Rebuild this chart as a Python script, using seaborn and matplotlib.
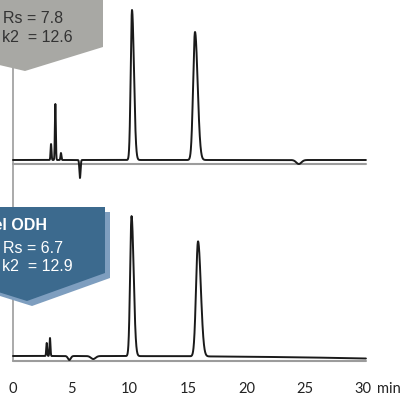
import numpy as np
import pandas as pd
import seaborn as sns
import matplotlib.pyplot as plt
from matplotlib.patches import Polygon

# peak tables
# retention time (min), height (signal units), sigma left (min), tailing factor
top_rt = [3.26, 3.63, 4.11, 5.74, 10.2, 15.6, 24.5]
top_h = [16, 56, 7, -18, 150, 128, -4]
top_w = [0.04, 0.04, 0.04, 0.05, 0.11, 0.16, 0.22]
top_tail = [1.0, 1.0, 1.0, 1.0, 1.5, 1.4, 1.0]

bot_rt = [2.89, 3.17, 4.83, 6.88, 10.16, 15.86]
bot_h = [13, 18, -4, -3, 140, 115]
bot_w = [0.04, 0.04, 0.12, 0.2, 0.12, 0.17]
bot_tail = [1.0, 1.0, 1.0, 1.0, 1.5, 1.4]

top_offset = 215
bot_offset = 19
bot_drift = -2.5      # baseline drift over the run, bottom trace
run_end = 30.25

xticks = [0, 5, 10, 15, 20, 25, 30]

top_labels = ['Rs = 7.8', 'k2  = 12.6']
bot_title = 'Chiralcel ODH'
bot_labels = ['Rs = 6.7', 'k2  = 12.9']


def trace(t, rt, h, w, tail):
    y = np.zeros_like(t)
    for r, hh, s, k in zip(rt, h, w, tail):
        sig = np.where(t < r, s, s * k)
        y += hh * np.exp(-0.5 * ((t - r) / sig) ** 2)
    return y


t = np.linspace(0, run_end, 6000)
df = pd.concat([
    pd.DataFrame({'time': t, 'signal': top_offset + trace(t, top_rt, top_h, top_w, top_tail), 'run': 'top'}),
    pd.DataFrame({'time': t, 'signal': bot_offset + bot_drift * (t / run_end) ** 3
                  + trace(t, bot_rt, bot_h, bot_w, bot_tail), 'run': 'bottom'}),
])

sns.set_theme(style='white')
W, H = 408, 396
fig = plt.figure(figsize=(W / 100, H / 100), dpi=100)
ax = fig.add_axes([0, 21 / H, 1, 1 - 21 / H])

gray = '#9c9c9c'
# baselines and left axis line
ax.plot([0, run_end], [top_offset - 4, top_offset - 4], color=gray, lw=1.5, zorder=1)
ax.plot([0, run_end], [bot_offset - 5, bot_offset - 5], color=gray, lw=1.5, zorder=1)
ax.plot([0, 0], [bot_offset - 5, 400], color=gray, lw=1.2, zorder=1)

sns.lineplot(data=df, x='time', y='signal', units='run', estimator=None, sort=False,
             color='#1a1a1a', lw=1.4, ax=ax, zorder=3)

ax.set_xlim(-13 / 11.667, (W - 13) / 11.667)
ax.set_ylim(0, 375)
for s in ax.spines.values():
    s.set_visible(False)
ax.set_yticks([])
ax.set_xticks(xticks)
ax.set_xticklabels([str(v) for v in xticks], fontfamily='Lato', fontsize=10.5, color='#222222')
ax.tick_params(axis='x', length=0, pad=5)
ax.set_xlabel('')
ax.set_ylabel('')
ax.annotate('min', xy=(30, 0), xycoords=ax.get_xaxis_transform(), xytext=(10, -5),
            textcoords='offset points', ha='left', va='top', fontfamily='Lato',
            fontsize=10.5, color='#222222')


def px(pts):
    return [(x / W, 1 - y / H) for x, y in pts]


# callout boxes
fig.patches.append(Polygon(px([(-5, -5), (103, -5), (103, 47), (25, 71), (-5, 64)]),
                           closed=True, fc='#a8a8a4', ec='none', transform=fig.transFigure, zorder=5))
fig.patches.append(Polygon(px([(0, 212), (110, 212), (110, 278), (32, 306), (0, 296)]),
                           closed=True, fc='#7e9ebf', ec='none', transform=fig.transFigure, zorder=5))
fig.patches.append(Polygon(px([(-5, 207), (105, 207), (105, 273), (27, 301), (-5, 291)]),
                           closed=True, fc='#3c6a8e', ec='none', transform=fig.transFigure, zorder=6))

font = 'Liberation Sans'
kw = dict(fontfamily=font, fontsize=11.5, va='baseline', zorder=10)
fig.text(3 / W, 1 - 23 / H, top_labels[0], color='#333333', **kw)
fig.text(2 / W, 1 - 42 / H, top_labels[1], color='#333333', **kw)
fig.text(47 / W, 1 - 230 / H, bot_title, fontweight='bold', color='white', ha='right', **kw)
fig.text(3 / W, 1 - 253 / H, bot_labels[0], color='white', **kw)
fig.text(2 / W, 1 - 271 / H, bot_labels[1], color='white', **kw)

fig.savefig('out.png', dpi=100)
